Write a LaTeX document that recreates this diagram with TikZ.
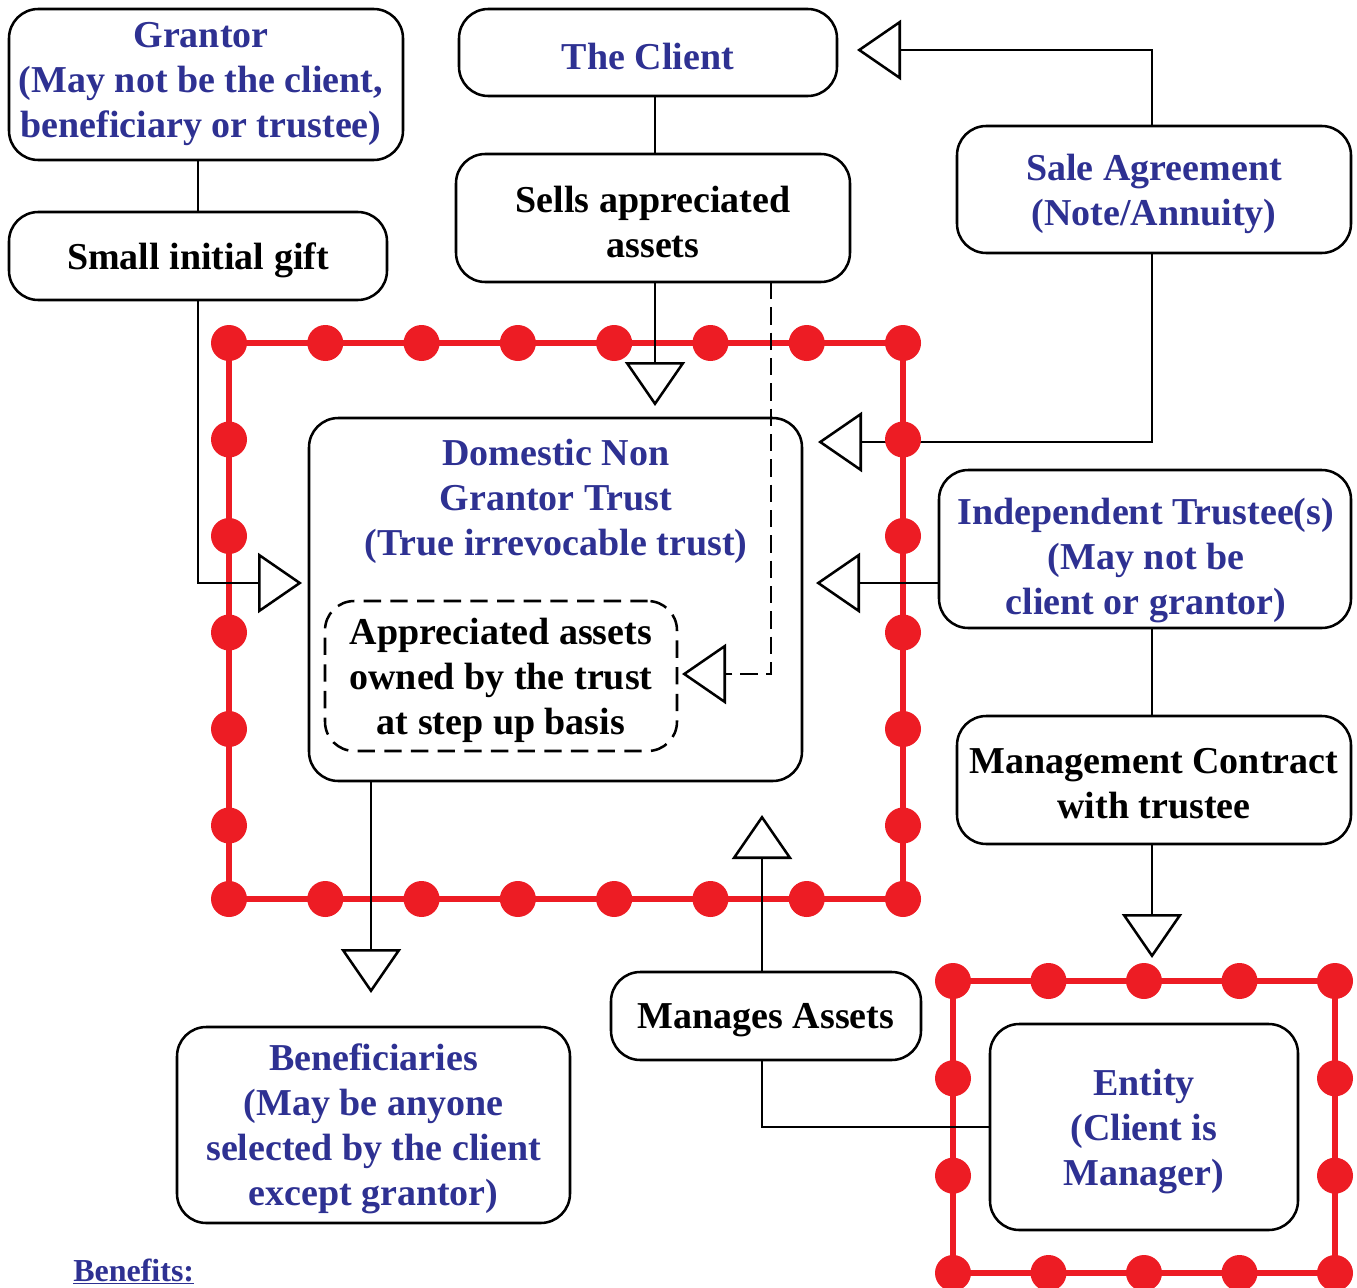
\documentclass[tikz,border=0pt]{standalone}
\usepackage{fontspec}
\setmainfont{Liberation Serif}
\usetikzlibrary{arrows.meta}
\definecolor{txtblue}{HTML}{2E3192}
\definecolor{dotred}{HTML}{ED1C24}
\pgfdeclarelayer{redlayer}
\pgfdeclarelayer{edgelayer}
\pgfdeclarelayer{nodelayer}
\pgfsetlayers{redlayer,edgelayer,nodelayer,main}
\tikzstyle{box}=[draw=black, line width=1.9pt, rounded corners=22pt, inner sep=0pt]
\tikzstyle{lbl}=[align=center, inner sep=0pt, yshift=-3pt, font=\fontsize{28.5}{33.75}\selectfont\bfseries]
\tikzstyle{edge}=[draw=black, line width=1.9pt]
\tikzstyle{tri}=[edge, -{Triangle[open, fill=white, length=33pt, width=45pt]}]
\tikzstyle{redline}=[draw=dotred, line width=4.5pt]

\begin{document}
\begin{tikzpicture}[x=0.75pt, y=-0.75pt]
	\useasboundingbox (0,0) rectangle (1357,1288);
	\begin{pgfonlayer}{nodelayer}
		% boxes
		\node [style=box, minimum width=295.5pt, minimum height=113.25pt] (grantor) at (206, 84.5) {};
		\node [style=lbl, txtblue] at (201, 80) {Grantor\\(May not be the client,\\beneficiary or trustee)};
		\node [style=box, minimum width=283.5pt, minimum height=66pt] (gift) at (198, 256) {};
		\node [style=lbl] at (gift) {Small initial gift};
		\node [style=box, minimum width=283.5pt, minimum height=65.25pt] (client) at (648, 52.5) {};
		\node [style=lbl, txtblue] at (client) {The Client};
		\node [style=box, minimum width=295.5pt, minimum height=96pt] (sells) at (653, 218) {};
		\node [style=lbl] at (sells) {Sells appreciated\\assets};
		\node [style=box, minimum width=295.5pt, minimum height=95.25pt] (sale) at (1154, 189.5) {};
		\node [style=lbl, txtblue] at (sale) {Sale Agreement\\(Note/Annuity)};
		\node [style=box, minimum width=369.75pt, minimum height=272.25pt] (trust) at (555.5, 599.5) {};
		\node [style=lbl, txtblue] at (556, 497) {Domestic Non\\Grantor Trust\\(True irrevocable trust)};
		\node [style=box, dashed, dash pattern=on 13pt off 7pt, minimum width=264pt, minimum height=112.5pt] (owned) at (501, 676) {};
		\node [style=lbl] at (owned) {Appreciated assets\\owned by the trust\\at step up basis};
		\node [style=box, minimum width=309pt, minimum height=118.5pt] (indep) at (1145, 549) {};
		\node [style=lbl, txtblue] at (1146, 557) {Independent Trustee(s)\\(May not be\\client or grantor)};
		\node [style=box, minimum width=295.5pt, minimum height=96pt] (mgmt) at (1154, 780) {};
		\node [style=lbl] at (mgmt) {Management Contract\\with trustee};
		\node [style=box, minimum width=294.75pt, minimum height=147pt] (benef) at (373.5, 1125) {};
		\node [style=lbl, txtblue] at (benef) {Beneficiaries\\(May be anyone\\selected by the client\\except grantor)};
		\node [style=box, minimum width=232.5pt, minimum height=66pt] (manages) at (766, 1016) {};
		\node [style=lbl] at (manages) {Manages Assets};
		\node [style=box, minimum width=231pt, minimum height=154.5pt] (entity) at (1144, 1127) {};
		\node [style=lbl, txtblue] at (entity) {Entity\\(Client is\\Manager)};
		\node [anchor=base west, inner sep=0pt, txtblue, font=\fontsize{24}{28}\selectfont\bfseries] (benefits) at (73, 1281) {\underline{Benefits:}};
		% red dots
		\foreach \i in {0,...,7} {
			\fill [dotred] (229+\i*96.29, 343) circle (13.5pt);
			\fill [dotred] (229+\i*96.29, 899) circle (13.5pt);
		}
		\foreach \i in {1,...,5} {
			\fill [dotred] (229, 343+\i*96.5) circle (13.5pt);
			\fill [dotred] (903, 343+\i*96.5) circle (13.5pt);
		}
		\foreach \i in {0,...,4} {
			\fill [dotred] (953+\i*95.5, 981) circle (13.5pt);
			\fill [dotred] (953+\i*95.5, 1273) circle (13.5pt);
		}
		\foreach \i in {1,2} {
			\fill [dotred] (953, 981+\i*97.33) circle (13.5pt);
			\fill [dotred] (1335, 981+\i*97.33) circle (13.5pt);
		}
	\end{pgfonlayer}
	\begin{pgfonlayer}{redlayer}
		\draw [style=redline] (229, 343) rectangle (903, 899);
		\draw [style=redline] (953, 981) rectangle (1335, 1273);
	\end{pgfonlayer}
	\begin{pgfonlayer}{edgelayer}
		\coordinate (clienttip) at (857, 50);
		\coordinate (saletip) at (818, 442);
		\coordinate (indeptip) at (816, 583);
		\coordinate (gifttip) at (302, 583);
		\coordinate (sellstip) at (655, 406);
		\coordinate (ownedtip) at (682, 674);
		\coordinate (dashstart) at (771, 282);
		\coordinate (mgmttip) at (1152, 958);
		\coordinate (beneftip) at (371, 993);
		\coordinate (managetip) at (762, 815);
		\draw [style=edge] (gift.north) to (gift.north |- grantor.south);
		\draw [style=edge] (sells.north -| sellstip) to (sellstip |- client.south);
		\draw [style=tri] (sells.south -| sellstip) to (sellstip);
		\draw [style=tri, dashed, dash pattern=on 13pt off 6pt] (dashstart) |- (ownedtip);
		\draw [style=tri] (gift.south) |- (gifttip);
		\draw [style=tri] (sale.north -| mgmttip) |- (clienttip);
		\draw [style=tri] (sale.south -| mgmttip) |- (saletip);
		\draw [style=tri] (indep.west |- indeptip) to (indeptip);
		\draw [style=edge] (indep.south -| mgmttip) to (mgmt.north -| mgmttip);
		\draw [style=tri] (mgmt.south -| mgmttip) to (mgmttip);
		\draw [style=tri] (trust.south -| beneftip) to (beneftip);
		\draw [style=tri] (manages.north -| managetip) to (managetip);
		\draw [style=edge] (manages.south -| managetip) |- (entity.west);
	\end{pgfonlayer}
\end{tikzpicture}
\end{document}
